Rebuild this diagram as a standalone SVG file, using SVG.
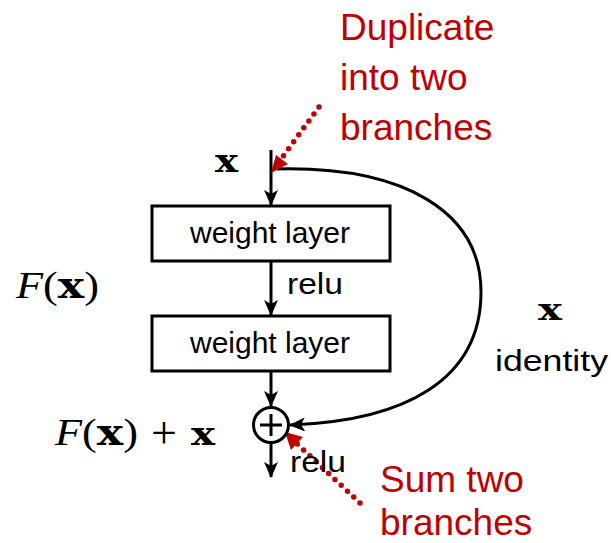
<svg xmlns="http://www.w3.org/2000/svg" width="611" height="543" viewBox="0 0 611 543">
<style>
.box{fill:#fff;stroke:#000;stroke-width:3}
.ln{fill:none;stroke:#000;stroke-width:3}
.lbl{font-family:"Liberation Sans","Open Sans",sans-serif;font-size:29px;fill:#000}
.red{font-family:"Liberation Sans","Open Sans",sans-serif;font-size:37px;fill:#c00000}
.dot{fill:none;stroke:#c00000;stroke-width:5.5;stroke-linecap:round;stroke-dasharray:0 8.6}
.math{font-family:"DejaVu Serif","Liberation Serif",serif;fill:#000}
.bx{font-weight:bold}
.cal{font-family:"Liberation Serif","DejaVu Serif",serif;font-style:italic}
.rm{font-family:"Liberation Serif","DejaVu Serif",serif}
</style>
<defs>
<marker id="ah" markerUnits="userSpaceOnUse" viewBox="0 0 16 14" refX="15" refY="7" markerWidth="16" markerHeight="14" orient="auto">
<path d="M0,0 L16,7 L0,14 L4,7 z" fill="#000"/>
</marker>
</defs>

<g id="connectors">
<line class="ln" x1="271" y1="150" x2="271" y2="205" marker-end="url(#ah)"/>
<line class="ln" x1="271" y1="262" x2="271" y2="315" marker-end="url(#ah)"/>
<line class="ln" x1="271" y1="372" x2="271" y2="406" marker-end="url(#ah)"/>
<line class="ln" x1="271" y1="443" x2="271" y2="477" marker-end="url(#ah)"/>
<path class="ln" d="M277,169 C405,166 481,212 481,292 C481,380 405,421 290,425" marker-end="url(#ah)"/>
<line class="dot" x1="319" y1="107" x2="276" y2="166"/>
<path d="M271,173 L276,155 L288,164 z" fill="#c00000"/>
<line class="dot" x1="360" y1="503" x2="293" y2="440"/>
<path d="M285,432 L303,437 L291,450 z" fill="#c00000"/>
</g>

<g id="node-x-input">
<text class="math bx" x="215" y="172" font-size="31" textLength="23" lengthAdjust="spacingAndGlyphs">x</text>
</g>

<g id="node-weight1">
<rect class="box" x="152" y="206" width="238" height="55"/>
<text class="lbl" x="190" y="243" textLength="160" lengthAdjust="spacingAndGlyphs">weight layer</text>
</g>

<g id="node-relu1">
<text class="lbl" x="287" y="294" textLength="56" lengthAdjust="spacingAndGlyphs">relu</text>
</g>

<g id="node-weight2">
<rect class="box" x="152" y="316" width="238" height="55"/>
<text class="lbl" x="190" y="353" textLength="160" lengthAdjust="spacingAndGlyphs">weight layer</text>
</g>

<g id="node-sum">
<circle cx="271" cy="425" r="17.5" fill="#fff" stroke="#000" stroke-width="3"/>
<line x1="260" y1="425" x2="282" y2="425" stroke="#000" stroke-width="3"/>
<line x1="271" y1="414" x2="271" y2="436" stroke="#000" stroke-width="3"/>
</g>

<g id="node-relu2">
<text class="lbl" x="290" y="472" textLength="56" lengthAdjust="spacingAndGlyphs">relu</text>
</g>

<g id="node-Fx">
<text class="math" x="16" y="298" font-size="37" textLength="83" lengthAdjust="spacingAndGlyphs"><tspan class="cal">F</tspan><tspan class="rm">(</tspan><tspan class="bx">x</tspan><tspan class="rm">)</tspan></text>
</g>

<g id="node-Fxx">
<text class="math" x="55" y="445" font-size="37" textLength="83" lengthAdjust="spacingAndGlyphs"><tspan class="cal">F</tspan><tspan class="rm">(</tspan><tspan class="bx">x</tspan><tspan class="rm">)</tspan></text>
<text class="rm" x="164" y="448" font-size="46" text-anchor="middle">+</text>
<text class="math bx" x="191" y="445" font-size="31" textLength="24" lengthAdjust="spacingAndGlyphs">x</text>
</g>

<g id="node-identity">
<text class="math bx" x="538" y="320" font-size="30" textLength="24" lengthAdjust="spacingAndGlyphs">x</text>
<text class="lbl" x="495" y="371" textLength="113" lengthAdjust="spacingAndGlyphs">identity</text>
</g>

<g id="note-duplicate">
<text class="red" x="340" y="40">Duplicate</text>
<text class="red" x="340" y="90">into two</text>
<text class="red" x="340" y="140">branches</text>
</g>

<g id="note-sum">
<text class="red" x="380" y="492">Sum two</text>
<text class="red" x="380" y="535">branches</text>
</g>
</svg>
